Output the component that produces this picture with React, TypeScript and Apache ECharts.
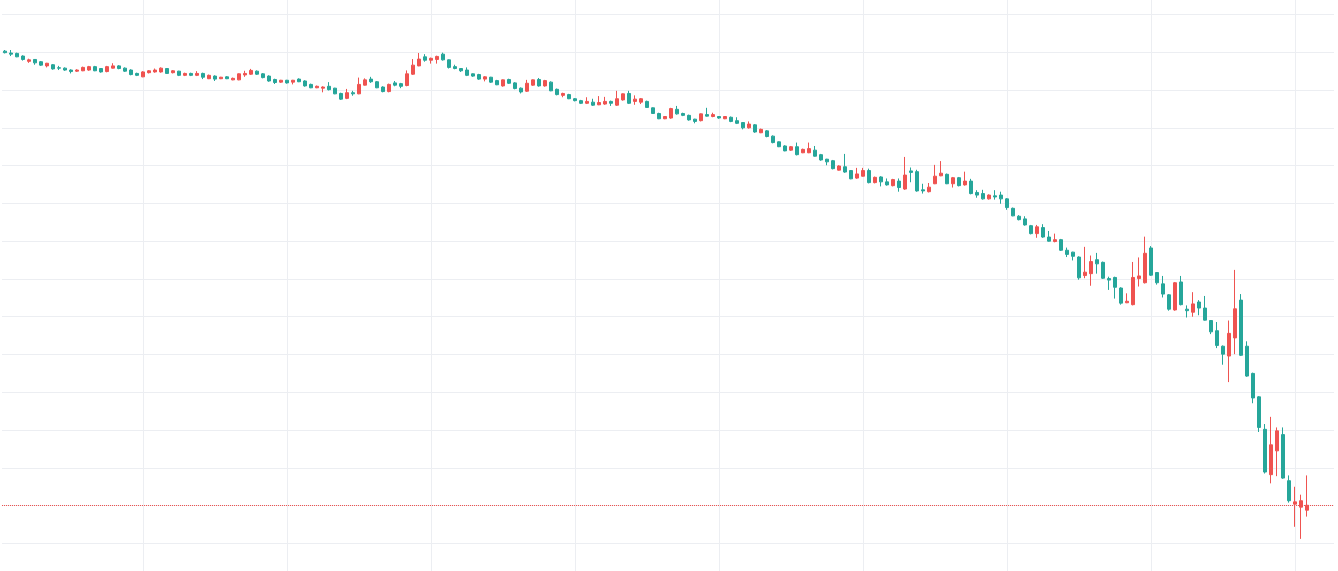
import React, { useEffect, useRef } from "react";
import * as echarts from "echarts";

// Colours (TradingView-like: red = rising candle, teal = falling candle)
const UP_COLOR = "#ef5350";
const DOWN_COLOR = "#26a69a";
const GRID_COLOR = "#eceef2";

// Hourly candles, one array per day: [open, close, low, high]
const day0 = [
  [130.3, 129.9, 129.7, 130.6], [129.8, 129.5, 129.0, 130.6], [129.7, 128.8, 128.7, 129.9],
  [129.0, 128.1, 127.8, 129.2], [127.6, 128.0, 127.2, 128.3], [128.1, 127.2, 126.7, 128.2],
  [127.5, 126.6, 126.4, 127.7], [126.4, 127.1, 126.0, 127.2], [126.7, 125.6, 125.4, 126.9],
  [125.9, 125.8, 125.3, 126.4], [125.8, 125.3, 125.1, 126.0], [125.3, 124.9, 124.4, 125.5],
  [125.0, 125.3, 124.8, 125.5], [125.1, 126.0, 125.0, 126.2], [125.3, 126.2, 125.1, 126.4],
  [126.2, 125.1, 125.0, 126.4], [125.7, 124.8, 124.6, 125.8], [124.9, 126.2, 124.7, 126.4],
  [125.8, 126.4, 125.7, 127.1], [126.4, 125.7, 125.5, 126.6], [125.8, 125.0, 124.8, 126.0],
  [125.3, 124.1, 123.9, 125.5], [124.4, 123.9, 123.7, 124.6],
];
const day1 = [
  [123.5, 124.8, 123.4, 125.0], [124.6, 125.1, 124.4, 125.3], [124.8, 125.3, 124.6, 125.7],
  [124.8, 125.8, 124.6, 126.0], [125.7, 124.4, 124.3, 125.8], [124.6, 125.1, 124.4, 125.3],
  [125.0, 123.9, 123.7, 125.1], [123.9, 124.4, 123.7, 124.6], [124.4, 123.9, 123.7, 124.6],
  [123.9, 124.4, 123.7, 125.0], [124.4, 123.4, 122.9, 124.6], [123.0, 123.9, 122.9, 124.1],
  [123.7, 122.9, 122.4, 123.9], [123.0, 123.4, 122.9, 123.5], [123.5, 123.0, 122.9, 123.7],
  [122.7, 123.1, 122.6, 123.3], [122.7, 124.3, 122.6, 124.4], [124.0, 124.4, 123.5, 125.1],
  [124.2, 125.2, 124.0, 125.6], [125.0, 124.2, 124.0, 125.2], [124.3, 123.3, 123.1, 124.5],
  [123.7, 122.4, 122.2, 123.9], [122.8, 122.0, 121.6, 123.0], [122.1, 122.6, 121.9, 122.7],
];
const day2 = [
  [122.6, 121.9, 121.7, 122.7], [122.1, 122.6, 121.5, 122.7], [122.9, 122.2, 122.1, 123.1],
  [122.4, 121.1, 120.9, 122.6], [121.5, 120.6, 120.5, 121.7], [120.6, 121.0, 120.5, 121.2],
  [120.5, 120.8, 119.4, 121.0], [121.0, 120.1, 119.9, 122.1], [120.5, 119.0, 118.9, 120.6],
  [119.1, 117.6, 117.4, 119.3], [117.8, 119.3, 117.6, 120.3], [119.3, 119.0, 118.5, 119.8],
  [119.0, 121.5, 118.9, 123.3], [121.3, 122.7, 121.2, 123.1], [122.9, 122.2, 121.9, 123.5],
  [122.2, 120.6, 120.5, 122.4], [120.8, 119.6, 119.4, 121.0], [119.6, 121.5, 119.4, 121.7],
  [121.9, 121.3, 121.0, 122.4], [121.7, 121.0, 120.5, 121.9], [121.2, 124.3, 121.0, 125.2],
  [124.2, 126.6, 124.0, 128.2], [126.4, 128.2, 126.3, 129.8], [128.8, 127.9, 127.5, 129.5],
];
const day3 = [
  [127.9, 128.4, 127.0, 128.6], [128.1, 128.9, 127.0, 129.1], [129.5, 128.0, 127.8, 129.9],
  [128.0, 126.0, 125.7, 128.1], [126.2, 125.7, 125.5, 126.7], [125.7, 125.1, 124.8, 125.8],
  [125.3, 123.9, 123.7, 126.0], [124.3, 123.7, 123.5, 124.4], [124.1, 122.9, 122.7, 124.3],
  [122.9, 123.5, 122.3, 123.7], [123.4, 122.1, 121.9, 123.5], [122.5, 121.4, 121.3, 122.7],
  [121.1, 122.7, 120.9, 122.8], [122.8, 121.8, 121.6, 123.0], [121.9, 120.4, 120.2, 122.1],
  [120.5, 119.5, 119.1, 120.7], [119.7, 121.8, 119.5, 122.7], [121.3, 122.7, 121.1, 122.8],
  [122.8, 121.1, 120.9, 123.2], [121.1, 122.5, 120.9, 122.7], [122.1, 119.8, 119.7, 122.3],
  [120.2, 118.8, 118.6, 120.4], [118.6, 119.1, 118.1, 119.3], [118.8, 117.7, 117.6, 119.0],
];
const day4 = [
  [117.7, 117.2, 117.0, 117.9], [117.2, 116.5, 116.3, 117.4], [116.5, 117.0, 116.3, 118.1],
  [116.8, 116.0, 115.8, 117.7], [116.1, 116.7, 116.0, 118.4], [116.3, 117.0, 116.1, 118.2],
  [117.0, 116.5, 115.8, 117.2], [116.0, 117.7, 115.8, 119.8], [117.4, 119.0, 117.2, 119.1],
  [119.1, 116.5, 116.3, 119.8], [117.0, 117.6, 116.1, 118.6], [116.8, 117.7, 116.3, 117.9],
  [117.0, 115.4, 115.3, 117.2], [115.3, 113.8, 113.7, 115.4], [113.8, 112.4, 112.3, 114.0],
  [112.4, 113.0, 112.3, 113.1], [112.6, 115.1, 112.4, 115.3], [114.9, 113.7, 113.5, 115.8],
  [113.8, 113.3, 113.1, 114.0], [113.3, 112.1, 111.9, 113.5], [112.3, 111.7, 111.2, 112.4],
  [111.9, 113.7, 111.7, 113.8], [113.5, 113.1, 113.0, 115.3], [113.0, 113.5, 112.8, 114.0],
];
const day5 = [
  [113.0, 112.6, 112.4, 113.1], [112.4, 113.0, 112.3, 113.1], [112.8, 111.7, 111.5, 113.0],
  [111.9, 111.2, 111.0, 112.8], [111.4, 110.0, 109.6, 111.5], [110.0, 111.0, 109.8, 111.7],
  [110.8, 108.9, 108.7, 111.0], [108.7, 109.6, 108.6, 109.8], [109.2, 107.7, 107.5, 109.4],
  [107.8, 106.1, 105.9, 108.0], [106.3, 105.0, 104.9, 106.4], [105.2, 103.9, 103.8, 105.4],
  [104.1, 105.0, 103.9, 105.2], [105.0, 102.9, 102.7, 106.1], [103.4, 104.3, 103.3, 104.5],
  [103.4, 104.5, 103.3, 106.1], [104.1, 102.5, 102.4, 105.2], [102.9, 101.5, 101.3, 103.1],
  [101.7, 101.0, 100.1, 101.8], [101.3, 99.2, 99.0, 101.5], [98.8, 99.9, 98.7, 100.1],
  [99.7, 98.3, 98.1, 103.1], [98.7, 96.5, 96.4, 98.8], [96.7, 97.8, 96.5, 99.4],
];
const day6 = [
  [97.2, 98.7, 97.1, 99.4], [98.7, 95.5, 95.3, 99.2], [95.5, 96.9, 95.3, 97.1],
  [97.0, 95.7, 94.5, 97.2], [95.7, 94.9, 94.7, 96.6], [94.7, 96.3, 94.5, 96.5],
  [95.9, 94.2, 93.1, 96.6], [93.8, 97.5, 93.6, 102.3], [98.6, 98.2, 95.6, 99.5],
  [98.4, 93.3, 93.1, 98.9], [93.6, 93.3, 92.6, 95.2], [93.1, 94.3, 92.9, 95.4],
  [95.2, 97.2, 95.1, 100.2], [97.3, 98.0, 97.2, 101.2], [97.7, 95.2, 95.1, 97.9],
  [95.2, 96.8, 94.2, 97.0], [96.8, 94.7, 94.5, 97.0], [94.9, 95.9, 94.7, 98.4],
  [95.9, 92.6, 92.4, 96.5], [92.9, 92.2, 91.5, 93.5], [92.6, 91.2, 91.0, 93.6],
  [91.2, 92.2, 91.0, 92.4], [92.0, 91.7, 91.0, 93.5], [92.2, 91.2, 89.9, 93.1],
];
const day7 = [
  [91.2, 88.9, 88.3, 91.4], [88.7, 86.7, 86.6, 88.9], [86.6, 85.7, 85.5, 86.9],
  [85.9, 84.3, 84.1, 86.6], [84.1, 82.0, 81.8, 84.3], [82.0, 83.8, 80.9, 84.3],
  [83.6, 81.1, 80.9, 84.5], [81.1, 80.0, 79.9, 82.7], [79.9, 80.4, 79.7, 82.0],
  [80.4, 77.6, 77.4, 80.6], [77.6, 76.5, 75.8, 78.3], [77.1, 76.0, 74.9, 77.2],
  [75.8, 70.3, 69.8, 76.0], [70.9, 71.8, 70.2, 78.5], [71.4, 74.6, 68.2, 76.2],
  [75.1, 74.0, 71.4, 76.9], [74.4, 70.2, 70.0, 74.6], [70.1, 69.7, 67.1, 70.6],
  [70.4, 67.8, 64.8, 70.6], [67.6, 63.6, 63.2, 67.8], [63.7, 64.1, 63.6, 66.2],
  [63.2, 70.4, 63.0, 74.5], [70.1, 70.8, 68.0, 75.7], [69.0, 76.8, 68.8, 81.2],
];
const day8 = [
  [78.2, 71.0, 70.8, 78.7], [71.7, 69.0, 68.5, 71.8], [68.7, 66.0, 65.1, 70.8],
  [65.8, 62.0, 61.6, 66.0], [61.8, 69.0, 61.6, 69.2], [69.2, 63.2, 63.0, 70.8],
  [62.0, 61.6, 59.8, 63.0], [61.2, 63.4, 60.0, 66.5], [63.9, 62.3, 60.4, 64.4],
  [62.3, 59.1, 59.0, 65.5], [59.0, 56.0, 55.4, 59.1], [56.3, 52.4, 51.7, 58.6],
  [52.2, 50.1, 47.3, 52.4], [49.6, 55.6, 42.7, 59.0], [54.4, 62.1, 50.1, 72.4],
  [64.4, 49.8, 49.6, 66.0], [52.2, 44.3, 44.1, 53.5], [45.0, 38.5, 37.1, 45.2],
  [38.8, 30.7, 29.5, 39.0], [30.2, 18.9, 18.5, 31.6], [18.2, 26.1, 15.9, 33.5],
  [24.5, 29.8, 17.8, 30.7], [28.8, 17.3, 17.1, 30.7], [16.6, 11.3, 10.8, 18.0],
];
const day9 = [
  [10.4, 11.0, 4.4, 15.0], [9.6, 11.3, 1.2, 12.9], [8.8, 10.1, 7.1, 18.0],
];

const candles = [...day0, ...day1, ...day2, ...day3, ...day4, ...day5, ...day6, ...day7, ...day8, ...day9];

// Hourly time categories (first candle 01:00), plus a few empty slots on the right
const EMPTY_SLOTS = 4;
const categories: string[] = [];
for (let i = 0; i < candles.length + EMPTY_SLOTS; i++) {
  const h = i + 1;
  const day = 5 + Math.floor(h / 24);
  const hour = h % 24;
  categories.push(`2022-05-${String(day).padStart(2, "0")} ${String(hour).padStart(2, "0")}:00`);
}

// Price scale
const PRICE_MIN = -10;
const PRICE_MAX = 150;
const PRICE_STEP = 10;
const lastClose = candles[candles.length - 1][1];

export default function App() {
  const ref = useRef<HTMLDivElement>(null);

  useEffect(() => {
    if (!ref.current) return;
    const chart = echarts.init(ref.current, null, { renderer: "svg" });
    chart.setOption({
      animation: false,
      backgroundColor: "#ffffff",
      grid: {
        left: 2,
        right: 4,
        top: -23.28,
        bottom: -10.2,
        containLabel: false,
        outerBoundsMode: "none",
      },
      xAxis: {
        type: "category",
        data: categories,
        boundaryGap: true,
        axisLine: { show: false },
        axisTick: { show: false },
        axisLabel: { show: false },
        splitLine: {
          show: true,
          alignWithLabel: true,
          interval: (_idx: number, value: string) => value.endsWith(" 00:00"),
          lineStyle: { color: GRID_COLOR, width: 1 },
        },
      },
      yAxis: {
        type: "value",
        min: PRICE_MIN,
        max: PRICE_MAX,
        interval: PRICE_STEP,
        scale: false,
        axisLine: { show: false },
        axisTick: { show: false },
        axisLabel: { show: false },
        splitLine: { show: true, lineStyle: { color: GRID_COLOR, width: 1 } },
      },
      series: [
        {
          type: "candlestick",
          data: candles,
          barWidth: 4,
          itemStyle: {
            color: UP_COLOR,
            color0: DOWN_COLOR,
            borderColor: UP_COLOR,
            borderColor0: DOWN_COLOR,
            borderWidth: 1,
          },
          markLine: {
            silent: true,
            symbol: ["none", "none"],
            label: { show: false },
            lineStyle: { color: UP_COLOR, type: "dotted", width: 1 },
            data: [{ yAxis: lastClose }],
          },
        },
      ],
    });
    return () => chart.dispose();
  }, []);

  return (
    <div
      ref={ref}
      style={{ position: "fixed", left: 0, top: 0, width: 1338, height: 571, background: "#ffffff" }}
    />
  );
}
